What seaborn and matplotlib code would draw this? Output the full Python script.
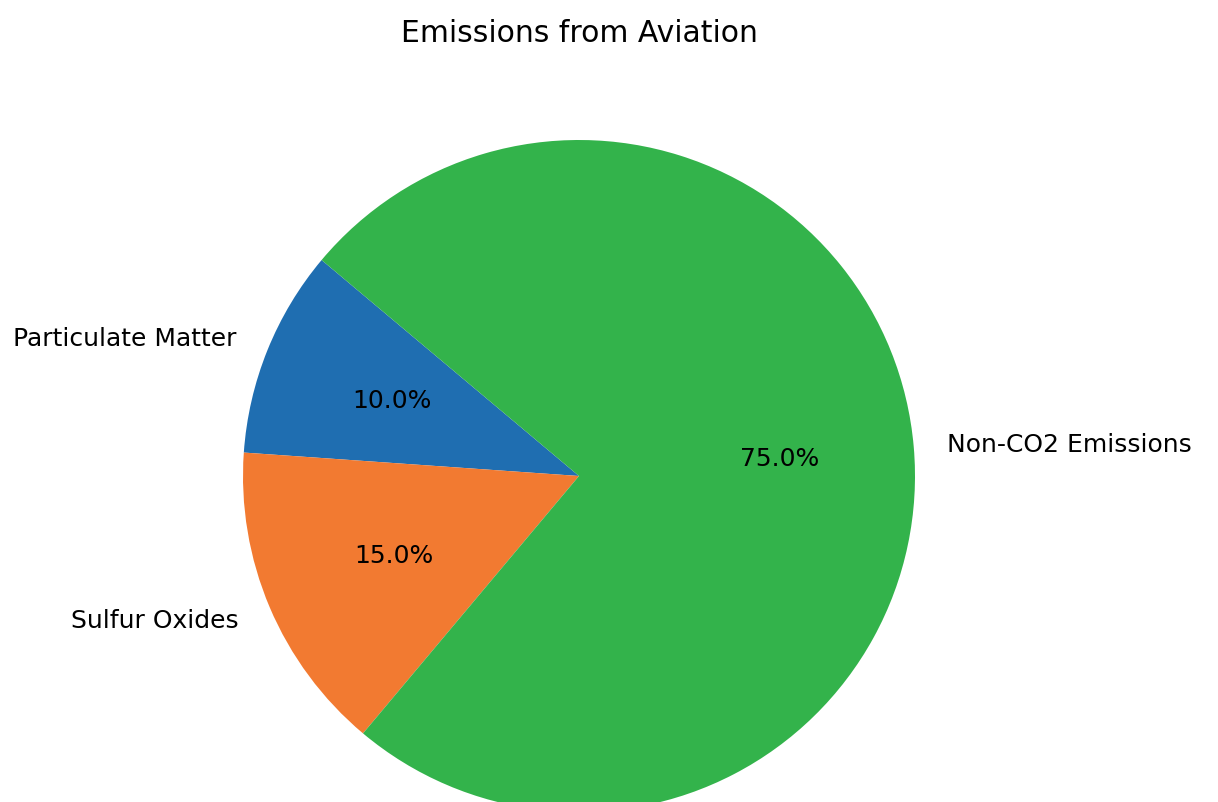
import matplotlib
matplotlib.use("Agg")
import matplotlib.pyplot as plt
import seaborn as sns

sns.set_style("white")
plt.rcParams['font.family'] = ['DejaVu Sans']
plt.rcParams['text.color'] = 'black'

categories = ["Particulate Matter", "Sulfur Oxides", "Non-CO2 Emissions"]
values = [10, 15, 75]
colors = ["#1f6eb1", "#f27a31", "#33b34b"]
title = "Emissions from Aviation"

W, H = 1218, 803
fig = plt.figure(figsize=(W / 100, H / 100), dpi=100)
cx, cy, r = 579, 477, 336
ax = fig.add_axes([(cx - r) / W, (H - cy - r) / H, 2 * r / W, 2 * r / H])
wedges, texts, autotexts = ax.pie(values, labels=categories, colors=colors,
                                  autopct='%1.1f%%', startangle=140,
                                  wedgeprops={'linewidth': 0, 'edgecolor': 'none'},
                                  textprops={'fontsize': 18, 'color': 'black'})
ax.set_xlim(-1, 1)
ax.set_ylim(-1, 1)
ax.set_aspect('equal')
ax.axis('off')
fig.text(cx / W, 1 - 34 / H, title, ha='center', va='center', fontsize=21.5,
         color='black')
fig.savefig("out.png", dpi=100)
